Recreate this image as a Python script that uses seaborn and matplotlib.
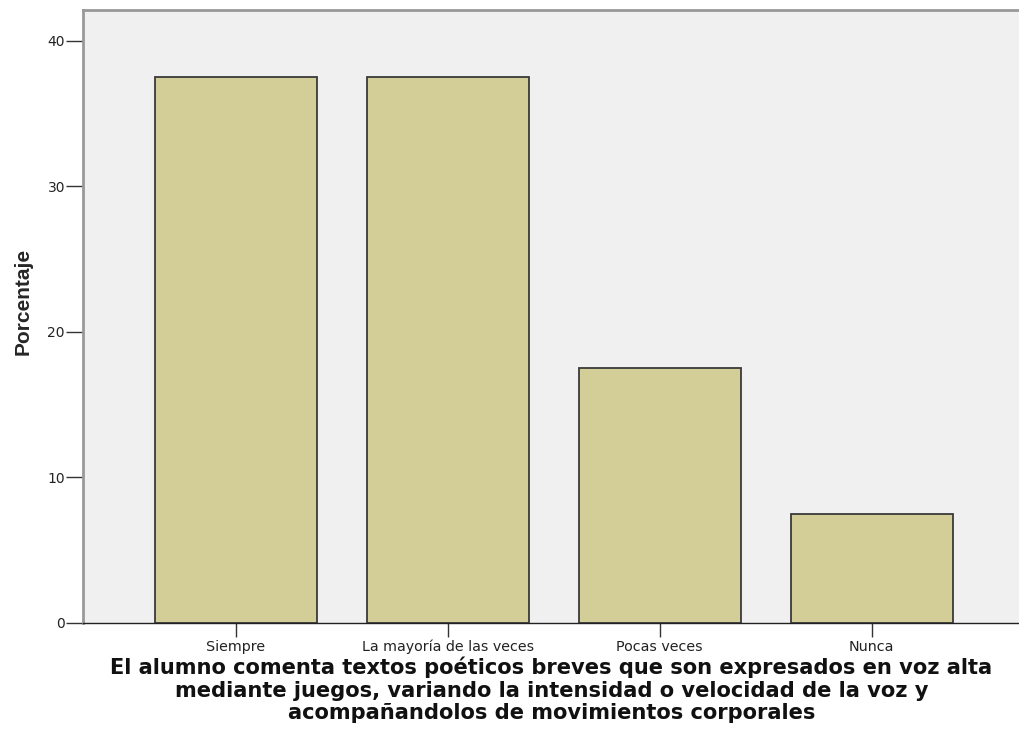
import matplotlib
matplotlib.use("Agg")
import matplotlib.pyplot as plt
import seaborn as sns
import pandas as pd

# Data
categorias = ["Siempre", "La mayoría de las veces", "Pocas veces", "Nunca"]
porcentajes = [37.5, 37.5, 17.5, 7.5]
yticks = [0, 10, 20, 30, 40]

xlabel_txt = ("El alumno comenta textos poéticos breves que son expresados en voz alta\n"
              "mediante juegos, variando la intensidad o velocidad de la voz y\n"
              "acompañandolos de movimientos corporales")

df = pd.DataFrame({"categoria": categorias, "porcentaje": porcentajes})

sns.set_style("white")
plt.rcParams['font.family'] = ['DejaVu Sans']

fig = plt.figure(figsize=(10.2, 7.53), dpi=100)
ax = fig.add_axes([83 / 1020, 130 / 753, (1020 - 83) / 1020, (623 - 10) / 753])
ax.set_facecolor("#F0F0F0")

sns.barplot(data=df, x="categoria", y="porcentaje", ax=ax, color="#D3CE97",
            edgecolor="#3a3a3a", linewidth=1.3, width=0.765, saturation=1)

ax.set_xlim(-0.72, 3.70)
ax.set_ylim(0, 42.1)
ax.set_yticks(yticks)
ax.set_yticklabels([str(v) for v in yticks], fontsize=10, color="#222222")
ax.tick_params(axis="y", length=12, width=1, color="#333333", pad=1, left=True)
ax.tick_params(axis="x", length=10, width=1, color="#333333", pad=2, bottom=True,
               labelsize=10.3, labelcolor="#222222")

for side in ["top", "left"]:
    ax.spines[side].set_color("#999999")
    ax.spines[side].set_linewidth(2)
ax.spines["right"].set_visible(False)
ax.spines["bottom"].set_color("#222222")
ax.spines["bottom"].set_linewidth(1)

ax.set_ylabel("Porcentaje", fontsize=15, fontweight="bold",
              family=["Liberation Sans", "DejaVu Sans"])
ax.yaxis.set_label_coords(-0.054, 0.524)
ax.set_xlabel(xlabel_txt, fontsize=15.1, fontweight="bold", linespacing=1.16,
              color="#111111")
ax.xaxis.set_label_coords(0.5, -0.055)

fig.savefig("out.png", dpi=100)
